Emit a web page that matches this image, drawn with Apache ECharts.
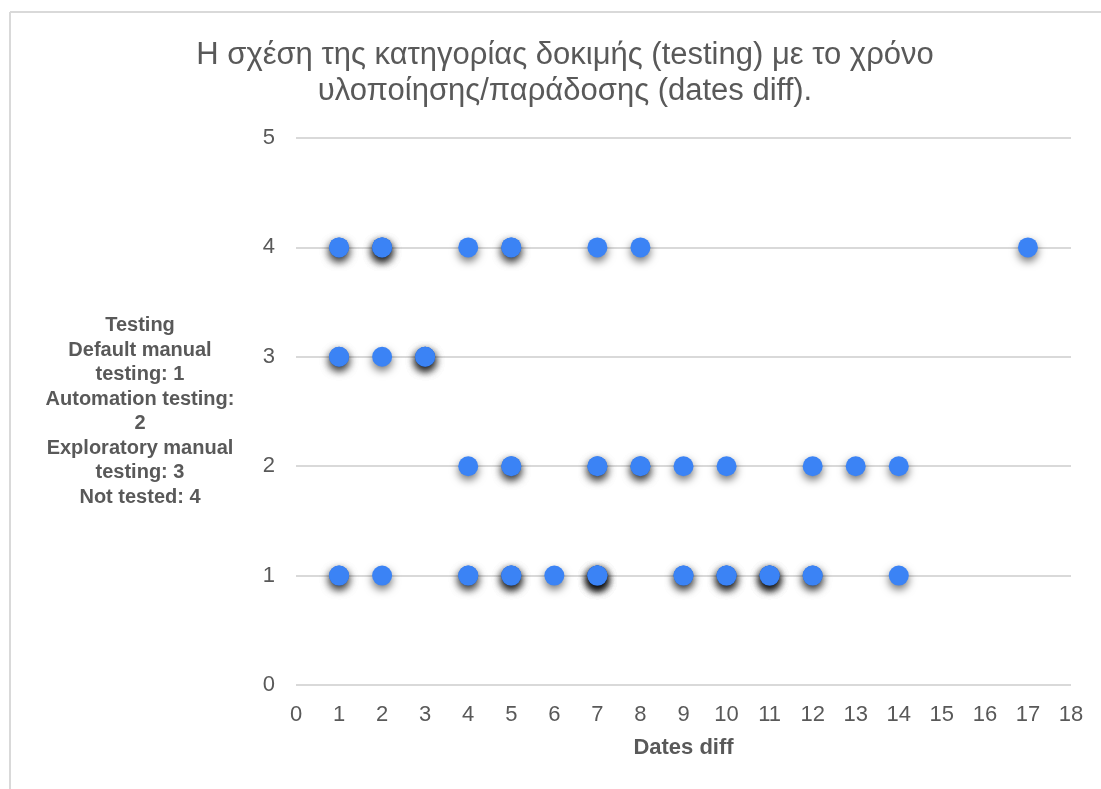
<!DOCTYPE html>
<html>
<head>
<meta charset="utf-8">
<script src="https://cdn.jsdelivr.net/npm/echarts@6/dist/echarts.min.js"></script>
<style>
  html, body { margin: 0; padding: 0; background: #fff; }
  #chart { width: 1101px; height: 789px; }
</style>
</head>
<body>
<div id="chart"></div>
<script>
// Dates diff of each item, grouped by testing category (repeats = several items with the same value)
const notTested   = [1, 1, 2, 2, 2, 4, 5, 5, 7, 8, 17];                         // category 4
const exploratory = [1, 1, 2, 3, 3, 3];                                          // category 3
const automation  = [4, 5, 5, 7, 7, 8, 8, 9, 10, 12, 13, 14];                    // category 2
const manual      = [1, 1, 2, 4, 4, 5, 5, 5, 6, 7, 7, 7, 7, 7, 9, 9, 10, 10, 10, 11, 11, 11, 11, 12, 12, 14]; // category 1

const categories = [
  { code: 1, diffs: manual },
  { code: 2, diffs: automation },
  { code: 3, diffs: exploratory },
  { code: 4, diffs: notTested }
];

const titleText = 'Η σχέση της κατηγορίας δοκιμής (testing) με το χρόνο\nυλοποίησης/παράδοσης (dates diff).';
const xName = 'Dates diff';
const yName = 'Testing\nDefault manual\ntesting: 1\nAutomation testing:\n2\nExploratory manual\ntesting: 3\nNot tested: 4';

const points = [];
categories.forEach(c => c.diffs.forEach(d => points.push([d, c.code])));

const chart = echarts.init(document.getElementById('chart'), null, { renderer: 'canvas' });
const font = '"Liberation Sans", Arial, sans-serif';

chart.setOption({
  backgroundColor: '#ffffff',
  animation: false,
  title: {
    text: titleText,
    left: 560,
    top: 32,
    textAlign: 'center',
    textStyle: { fontFamily: font, fontSize: 31, fontWeight: 'normal', color: '#595959', lineHeight: 36 }
  },
  grid: { left: 296, right: 30, top: 138, bottom: 104 },
  xAxis: {
    type: 'value',
    min: 0, max: 18, interval: 1,
    name: xName,
    nameLocation: 'middle',
    nameGap: 52,
    nameTextStyle: { fontFamily: font, fontSize: 22, fontWeight: 'bold', color: '#595959' },
    axisLine: { show: false },
    axisTick: { show: false },
    splitLine: { show: false },
    axisLabel: { fontFamily: font, fontSize: 22, color: '#595959', margin: 19 }
  },
  yAxis: {
    type: 'value',
    min: 0, max: 5, interval: 1,
    name: yName,
    nameLocation: 'middle',
    nameRotate: 0,
    nameGap: 156,
    nameTextStyle: { fontFamily: font, fontSize: 20, fontWeight: 'bold', color: '#595959', align: 'center', verticalAlign: 'middle', lineHeight: 24.5, padding: [0, 0, 38, 0] },
    axisLine: { show: false },
    axisTick: { show: false },
    splitLine: { show: true, lineStyle: { color: '#d9d9d9', width: 2 } },
    axisLabel: { fontFamily: font, fontSize: 22, color: '#595959', margin: 21 }
  },
  series: [{
    type: 'scatter',
    data: points,
    symbol: 'circle',
    symbolSize: 20,
    itemStyle: {
      color: '#3b83f5',
      opacity: 1,
      shadowBlur: 9,
      shadowOffsetX: 0,
      shadowOffsetY: 4,
      shadowColor: 'rgba(0,0,0,0.55)'
    }
  }],
  graphic: [
    { type: 'line', shape: { x1: 10, y1: 12, x2: 1101, y2: 12 }, style: { stroke: '#d9d9d9', lineWidth: 2 } },
    { type: 'line', shape: { x1: 10, y1: 12, x2: 10, y2: 789 }, style: { stroke: '#d9d9d9', lineWidth: 2 } }
  ]
});
</script>
</body>
</html>
